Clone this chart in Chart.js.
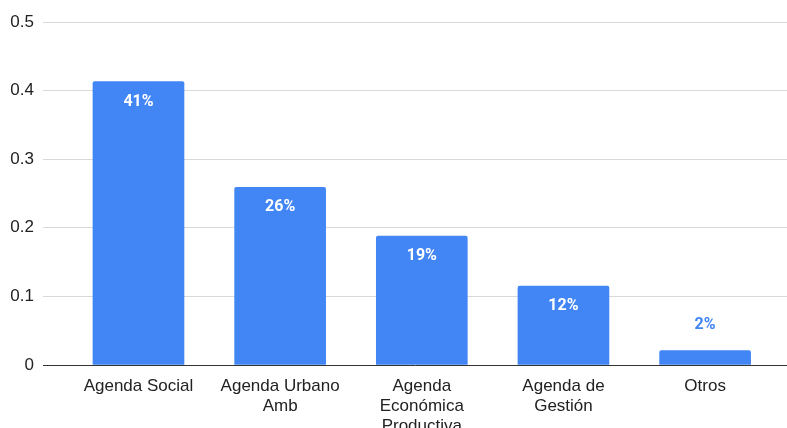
<!DOCTYPE html>
<html>
<head>
<meta charset="utf-8">
<script src="https://cdn.jsdelivr.net/npm/chart.js@4"></script>
<style>
  html, body { margin: 0; padding: 0; background: #fff; }
  #wrap { width: 787px; height: 428px; }
</style>
</head>
<body>
<div id="wrap"><canvas id="myChart"></canvas></div>
<script>
const categories = [
  ['Agenda Social'],
  ['Agenda Urbano', 'Amb'],
  ['Agenda', 'Económica', 'Productiva'],
  ['Agenda de', 'Gestión'],
  ['Otros']
]
const shares = [0.413, 0.259, 0.188, 0.115, 0.021]
const yTicks = [0, 0.1, 0.2, 0.3, 0.4, 0.5]

const blue = '#4285F4'

// percentage labels, inside the bar when it is tall enough, above it otherwise
const barLabels = {
  id: 'barLabels',
  afterDatasetsDraw(chart) {
    const ctx = chart.ctx
    const meta = chart.getDatasetMeta(0)
    ctx.save()
    ctx.font = 'bold 16px Roboto'
    ctx.textAlign = 'center'
    ctx.textBaseline = 'middle'
    meta.data.forEach(function(bar, i) {
      const text = Math.round(shares[i] * 100) + '%'
      const height = bar.base - bar.y
      if (height > 40) {
        ctx.fillStyle = '#ffffff'
        ctx.fillText(text, bar.x, bar.y + 20)
      } else {
        ctx.fillStyle = blue
        ctx.fillText(text, bar.x, bar.y - 26)
      }
    })
    ctx.restore()
  }
}

new Chart(document.getElementById('myChart'), {
  type: 'bar',
  data: {
    datasets: [{
      data: shares.map(function(v, i) { return { x: i, y: v } }),
      backgroundColor: blue,
      borderWidth: 0,
      borderRadius: { topLeft: 2, topRight: 2 },
      borderSkipped: 'bottom',
      barThickness: 91
    }]
  },
  options: {
    responsive: true,
    maintainAspectRatio: false,
    animation: false,
    layout: { padding: { top: 22, left: 0, right: 0, bottom: 0 } },
    plugins: {
      legend: { display: false },
      tooltip: { enabled: false }
    },
    scales: {
      x: {
        type: 'linear',
        offset: false,
        min: -0.674,
        max: 4.578,
        afterBuildTicks: function(scale) {
          scale.ticks = categories.map(function(_, i) { return { value: i } })
        },
        afterFit: function(scale) { scale.height = 63 },
        grid: { display: false, offset: false },
        border: { display: true, color: '#333333', width: 1 },
        ticks: {
          autoSkip: false,
          maxRotation: 0,
          padding: 3,
          color: '#222222',
          font: { family: 'Liberation Sans', size: 17, lineHeight: 1.18 },
          callback: function(value) { return categories[value] }
        }
      },
      y: {
        min: 0,
        max: 0.5,
        afterBuildTicks: function(scale) {
          scale.ticks = yTicks.map(function(v) { return { value: v } })
        },
        afterFit: function(scale) { scale.width = 43 },
        grid: { color: '#d9d9d9', lineWidth: 1, drawTicks: false },
        border: { display: false },
        ticks: {
          padding: 9,
          color: '#222222',
          font: { family: 'Liberation Sans', size: 17 },
          callback: function(value) { return String(value) }
        }
      }
    }
  },
  plugins: [barLabels]
})
</script>
</body>
</html>
